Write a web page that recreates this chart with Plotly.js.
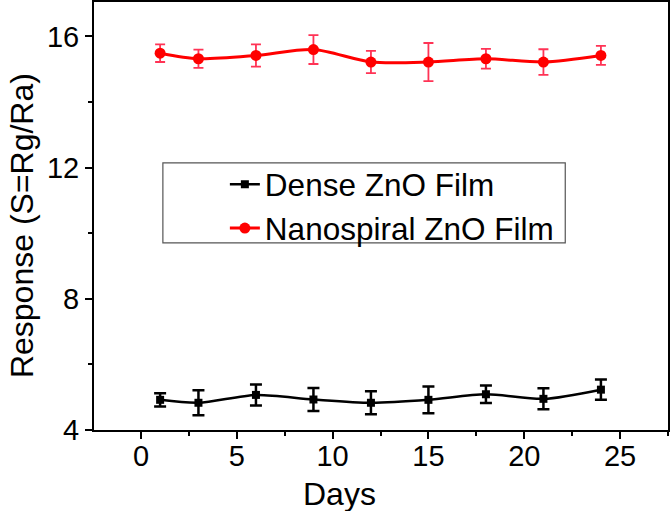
<!DOCTYPE html>
<html>
<head>
<meta charset="utf-8">
<script src="https://cdn.plot.ly/plotly-3.0.1.min.js"></script>
<style>html,body{margin:0;padding:0;background:#fff;}#chart{width:670px;height:511px;}</style>
</head>
<body>
<div id="chart"></div>
<script>
const days = [1, 3, 6, 9, 12, 15, 18, 21, 24];
const denseValues = [4.92, 4.83, 5.07, 4.93, 4.83, 4.92, 5.09, 4.95, 5.23];
const denseErrors = [0.20, 0.38, 0.32, 0.35, 0.35, 0.41, 0.27, 0.32, 0.31];
const spiralValues = [15.49, 15.32, 15.42, 15.60, 15.22, 15.22, 15.32, 15.22, 15.42];
const spiralErrors = [0.27, 0.28, 0.34, 0.44, 0.34, 0.58, 0.30, 0.39, 0.29];
const seriesNames = ["Dense ZnO Film", "Nanospiral ZnO Film"];
const xTicks = [0, 5, 10, 15, 20, 25];
const yTicks = [4, 8, 12, 16];
const xTitle = "Days";
const yTitle = "Response (S=Rg/Ra)";

const font = "Liberation Sans, Arial, sans-serif";

const traces = [
  {
    x: days, y: denseValues, name: seriesNames[0],
    type: "scatter", mode: "lines+markers",
    line: {color: "#000000", width: 2.5, shape: "spline", smoothing: 0.8},
    marker: {symbol: "square", size: 8, color: "#000000"},
    error_y: {type: "data", array: denseErrors, visible: true, color: "#000000", thickness: 2.5, width: 6}
  },
  {
    x: days, y: spiralValues, name: seriesNames[1],
    type: "scatter", mode: "lines+markers",
    line: {color: "#ff0000", width: 3, shape: "spline", smoothing: 0.8},
    marker: {symbol: "circle", size: 11, color: "#ff0000"},
    error_y: {type: "data", array: spiralErrors, visible: true, color: "#ff3355", thickness: 1.8, width: 5}
  }
];

const layout = {
  width: 670, height: 511,
  margin: {l: 94, r: 2, t: 2, b: 81},
  paper_bgcolor: "#ffffff", plot_bgcolor: "#ffffff",
  font: {family: font, color: "#000000", size: 29},
  showlegend: true,
  legend: {
    x: 0.228, y: 0.523, xanchor: "left", yanchor: "middle",
    bgcolor: "rgba(0,0,0,0)", borderwidth: 0,
    font: {family: font, size: 31.5, color: "#000000"},
    itemwidth: 30, tracegroupgap: 0
  },
  shapes: [
    {type: "rect", xref: "paper", yref: "paper", x0: 0.120, x1: 0.821, y0: 0.437, y1: 0.624,
     line: {color: "#555555", width: 1.2}, fillcolor: "rgba(0,0,0,0)", layer: "below"}
  ],
  annotations: [
    {text: xTitle, xref: "paper", yref: "paper", x: 0.427, y: -0.149, xanchor: "center", yanchor: "middle",
     showarrow: false, font: {family: font, size: 32, color: "#000"}},
    {text: yTitle, xref: "paper", yref: "paper", x: -0.125, y: 0.477, xanchor: "center", yanchor: "middle",
     textangle: -90, showarrow: false, font: {family: font, size: 32, color: "#000"}}
  ],
  xaxis: {
    range: [-2.45, 27.5],
    tickvals: xTicks, ticktext: xTicks.map(String),
    ticks: "outside", ticklen: 7, tickwidth: 2, tickcolor: "#000",
    minor: {dtick: 2.5, tick0: 0, ticks: "outside", ticklen: 4, tickwidth: 2, tickcolor: "#000", showgrid: false},
    showline: true, linecolor: "#000", linewidth: 2, mirror: true,
    showgrid: false, zeroline: false,
    ticklabelstandoff: -8,
    tickfont: {family: font, size: 29}
  },
  yaxis: {
    range: [4, 17.05],
    tickvals: yTicks, ticktext: yTicks.map(String),
    ticks: "outside", ticklen: 7, tickwidth: 2, tickcolor: "#000",
    minor: {dtick: 2, tick0: 0, ticks: "outside", ticklen: 4, tickwidth: 2, tickcolor: "#000", showgrid: false},
    showline: true, linecolor: "#000", linewidth: 2, mirror: true,
    showgrid: false, zeroline: false,
    tickfont: {family: font, size: 29}
  }
};

Plotly.newPlot("chart", traces, layout, {displayModeBar: false, staticPlot: true});
</script>
</body>
</html>
